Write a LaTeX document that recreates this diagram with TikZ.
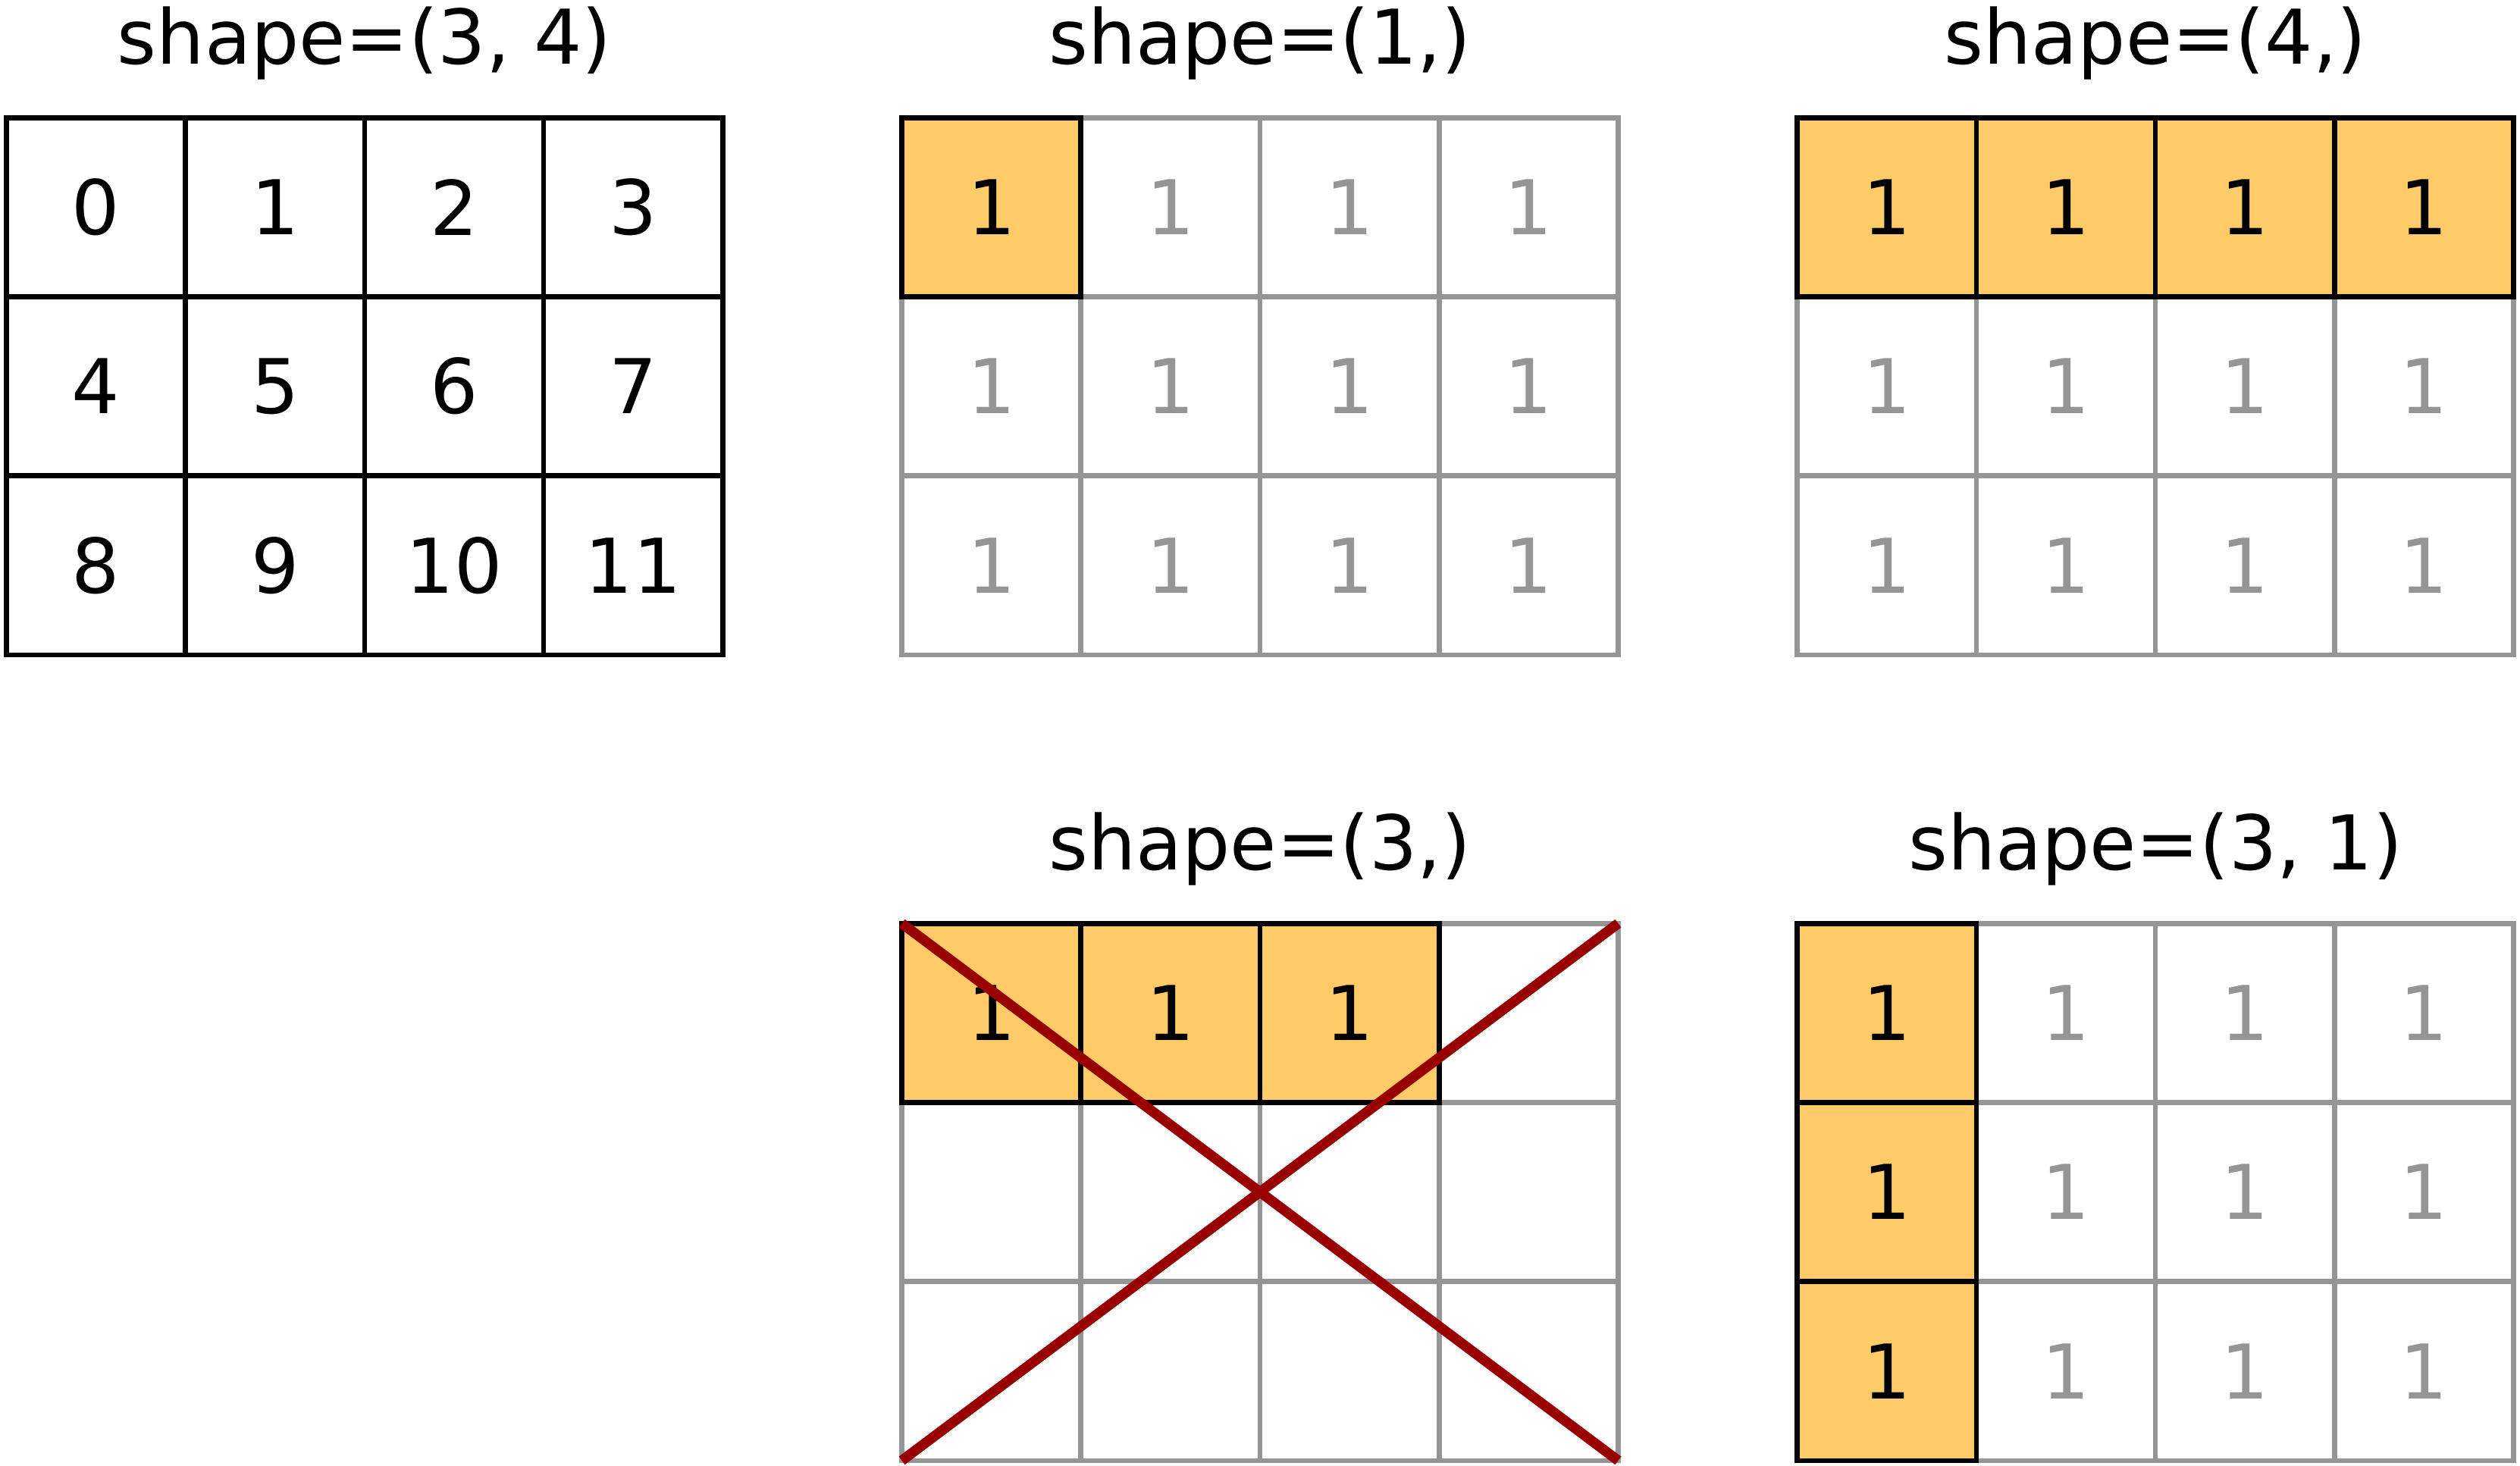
\documentclass[tikz,border=0pt]{standalone}
\usepackage{fontspec}
\setmainfont{DejaVu Sans}
\usepackage{xcolor}
\usepackage{tikz}
\usetikzlibrary{positioning}
\definecolor{cellfill}{HTML}{FECB66}
\definecolor{gridgray}{HTML}{959595}
\definecolor{crossred}{HTML}{990000}

\begin{document}
\begin{tikzpicture}[x=1cm, y=1cm,
  every node/.style={font=\fontsize{12}{14}\selectfont},
  cell/.style={rectangle, draw=black, line width=0.8pt, minimum size=1cm, inner sep=0pt, outer sep=0pt},
  hit/.style={cell, fill=cellfill},
  faint/.style={rectangle, minimum size=1cm, inner sep=0pt, outer sep=0pt, text=gridgray},
  title/.style={anchor=base},
  gridline/.style={draw=gridgray, line width=0.8pt, line cap=rect},
  cross/.style={draw=crossred, line width=1.6pt}]
\useasboundingbox (-0.036,0.657) rectangle (14.036,-7.528);

\node[title] (ta) at (2,0.3) {shape=(3, 4)};
\foreach \r in {1,2,3}
  \foreach \c in {1,...,4} {
    \pgfmathtruncatemacro{\v}{4*(\r-1)+\c-1}
    \node[cell] (a-\r-\c) at (\c-0.5,0.5-\r) {\v};
  }

\begin{scope}[xshift=5cm]
\foreach \x in {0,...,4} \draw[gridline] (\x,0) -- (\x,-3);
\foreach \y in {0,...,3} \draw[gridline] (0,-\y) -- (4,-\y);
\node[title] (tb) at (2,0.3) {shape=(1,)};
\foreach \c in {2,3,4} \node[faint] (b-1-\c) at (\c-0.5,-0.5) {1};
\foreach \r in {2,3}
  \foreach \c in {1,...,4} \node[faint] (b-\r-\c) at (\c-0.5,0.5-\r) {1};
\node[hit] (b-1-1) at (0.5,-0.5) {1};
\end{scope}

\begin{scope}[xshift=10cm]
\foreach \x in {0,...,4} \draw[gridline] (\x,0) -- (\x,-3);
\foreach \y in {0,...,3} \draw[gridline] (0,-\y) -- (4,-\y);
\node[title] (tc) at (2,0.3) {shape=(4,)};
\foreach \r in {2,3}
  \foreach \c in {1,...,4} \node[faint] (c-\r-\c) at (\c-0.5,0.5-\r) {1};
\foreach \c in {1,...,4} \node[hit] (c-1-\c) at (\c-0.5,-0.5) {1};
\end{scope}

\begin{scope}[xshift=5cm, yshift=-4.5cm]
\foreach \x in {0,...,4} \draw[gridline] (\x,0) -- (\x,-3);
\foreach \y in {0,...,3} \draw[gridline] (0,-\y) -- (4,-\y);
\node[title] (td) at (2,0.3) {shape=(3,)};
\foreach \c in {1,2,3} \node[hit] (d-1-\c) at (\c-0.5,-0.5) {1};
\coordinate (d-nw) at (0,0);
\coordinate (d-ne) at (4,0);
\coordinate (d-sw) at (0,-3);
\coordinate (d-se) at (4,-3);
\draw[cross] (d-nw) -- (d-se);
\draw[cross] (d-ne) -- (d-sw);
\end{scope}

\begin{scope}[xshift=10cm, yshift=-4.5cm]
\foreach \x in {0,...,4} \draw[gridline] (\x,0) -- (\x,-3);
\foreach \y in {0,...,3} \draw[gridline] (0,-\y) -- (4,-\y);
\node[title] (te) at (2,0.3) {shape=(3, 1)};
\foreach \r in {1,2,3}
  \foreach \c in {2,3,4} \node[faint] (e-\r-\c) at (\c-0.5,0.5-\r) {1};
\foreach \r in {1,2,3} \node[hit] (e-\r-1) at (0.5,0.5-\r) {1};
\end{scope}
\end{tikzpicture}
\end{document}
